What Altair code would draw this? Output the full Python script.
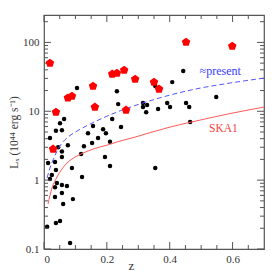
import altair as alt
import pandas as pd

# Black points (z, L_X in 1e44 erg/s)
black_z = [0.105, 0.232, 0.236, 0.217, 0.245, 0.064, 0.051, 0.038, 0.057, 0.140,
           0.156, 0.172, 0.188, 0.197, 0.019, 0.443, 0.408, 0.354, 0.315, 0.328,
           0.315, 0.325, 0.363, 0.392, 0.401, 0.452, 0.462, 0.548, 0.465, 0.210,
           0.194, 0.210, 0.354, 0.045, 0.057, 0.057, 0.013, 0.035, 0.089, 0.038,
           0.025, 0.019, 0.041, 0.057, 0.121, 0.035, 0.073, 0.057, 0.035, 0.061,
           0.092, 0.038, 0.051, 0.010, 0.083, 0.153, 0.127, 0.118, 0.076]
black_L = [21.7, 19.6, 12.7, 7.7, 5.9, 7.7, 6.7, 5.2, 5.3, 4.8,
           6.1, 4.1, 5.5, 4.8, 4.1, 38.3, 26.5, 23.2, 13.2, 12.3,
           11.5, 9.7, 10.8, 13.2, 11.5, 13.2, 11.5, 16.1, 7.0, 3.6,
           2.16, 1.60, 1.50, 3.0, 2.6, 2.16, 1.77, 1.83, 1.50, 1.40,
           1.19, 1.04, 0.91, 0.85, 1.11, 0.79, 0.82, 0.65, 0.57, 0.45,
           0.53, 0.238, 0.255, 0.21, 0.122, 3.45, 3.1, 2.4, 3.2]

# Red pentagons
red_z = [0.019, 0.038, 0.029, 0.076, 0.089, 0.156, 0.162, 0.217, 0.232, 0.255,
         0.261, 0.290, 0.350, 0.366, 0.452, 0.599]
red_L = [50, 9.7, 2.83, 15.6, 16.6, 23.2, 11.5, 34.7, 35.8, 39.6,
         10.4, 29.3, 26.5, 21.0, 101, 88]

# Sensitivity curves
present_z = [0.0096, 0.0191, 0.0287, 0.0414, 0.0573, 0.0764, 0.105, 0.140, 0.194,
             0.258, 0.315, 0.401, 0.497, 0.592, 0.70]
present_L = [1.07, 1.50, 1.96, 2.64, 3.45, 4.22, 5.16, 6.30, 8.24,
             10.8, 13.2, 17.2, 21.7, 25.7, 30.3]
ska_z = [0.0127, 0.0255, 0.0414, 0.0573, 0.0732, 0.0987, 0.124, 0.162, 0.201,
         0.242, 0.290, 0.344, 0.401, 0.497, 0.592, 0.70]
ska_L = [0.45, 0.77, 1.11, 1.45, 1.77, 2.16, 2.47, 2.88, 3.23,
         3.69, 4.22, 4.99, 5.90, 7.45, 9.26, 11.5]

# Labels
label_text = ["≈present", "SKA1"]
label_z = [0.495, 0.525]
label_L = [38.3, 5.5]
label_color = ["#3a3aff", "#ff4040"]
label_size = [12, 11.5]

# Axis ticks
x_major = [0.0, 0.2, 0.4, 0.6]
x_minor = [0.05, 0.1, 0.15, 0.25, 0.3, 0.35, 0.45, 0.5, 0.55, 0.65]
y_major = [0.1, 1, 10, 100]
y_minor = [0.2, 0.3, 0.4, 0.5, 0.6, 0.7, 0.8, 0.9, 2, 3, 4, 5, 6, 7, 8, 9,
           20, 30, 40, 50, 60, 70, 80, 90, 200]

W, H = 220, 234
FONT = "Liberation Serif"
TICK = "#555555"

xs = alt.Scale(domain=[0, 0.7], nice=False, zero=False)
ys = alt.Scale(type="log", domain=[0.1, 250], nice=False)

xaxis = alt.Axis(values=x_major, format="~g", ticks=False, domain=False, grid=False,
                 labelFont=FONT, labelFontSize=11, labelColor="#333", labelPadding=4,
                 title="z", titleFont=FONT, titleFontSize=13, titleFontWeight="normal",
                 titleColor="#333", titleX=87, titleY=20, titleBaseline="alphabetic",
                 titleAlign="center")
yaxis = alt.Axis(values=y_major, format="~g", ticks=False, domain=False, grid=False,
                 labelFont=FONT, labelFontSize=11, labelColor="#333", labelPadding=5,
                 title="Lₓ (10⁴⁴ erg s⁻¹)", titleFont=FONT, titleFontSize=11.5,
                 titleFontWeight="normal", titleColor="#333", titlePadding=3)

bdf = pd.DataFrame({"z": black_z, "L": black_L})
rdf = pd.DataFrame({"z": red_z, "L": red_L})
pdf = pd.DataFrame({"z": present_z, "L": present_L})
sdf = pd.DataFrame({"z": ska_z, "L": ska_L})
ldf = pd.DataFrame({"t": label_text, "z": label_z, "L": label_L, "c": label_color,
                    "s": label_size})

base_pts = alt.Chart(bdf).mark_circle(size=20, color="black", opacity=1).encode(
    x=alt.X("z:Q", scale=xs, axis=xaxis),
    y=alt.Y("L:Q", scale=ys, axis=yaxis),
)

pent = "M0,-1L0.951,-0.309L0.588,0.809L-0.588,0.809L-0.951,-0.309Z"
red_pts = alt.Chart(rdf).mark_point(shape=pent, size=80, filled=True, color="#ff0000",
                                    opacity=1).encode(
    x=alt.X("z:Q", scale=xs), y=alt.Y("L:Q", scale=ys))

present_line = alt.Chart(pdf).mark_line(color="#5555ff", strokeWidth=1,
                                        strokeDash=[5, 3], interpolate="monotone").encode(
    x=alt.X("z:Q", scale=xs), y=alt.Y("L:Q", scale=ys))
ska_line = alt.Chart(sdf).mark_line(color="#ff5a5a", strokeWidth=1,
                                    interpolate="monotone").encode(
    x=alt.X("z:Q", scale=xs), y=alt.Y("L:Q", scale=ys))

labels = alt.Chart(ldf).mark_text(font=FONT, align="left", baseline="middle").encode(
    x=alt.X("z:Q", scale=xs), y=alt.Y("L:Q", scale=ys),
    text="t:N", color=alt.Color("c:N", scale=None),
    size=alt.Size("s:Q", scale=None))

def xticks(vals, length):
    df = pd.DataFrame({"v": vals})
    bot = alt.Chart(df).mark_rule(color=TICK, strokeWidth=1).encode(
        x=alt.X("v:Q", scale=xs), y=alt.value(H), y2=alt.value(H - length))
    top = alt.Chart(df).mark_rule(color=TICK, strokeWidth=1).encode(
        x=alt.X("v:Q", scale=xs), y=alt.value(0), y2=alt.value(length))
    return [bot, top]

def yticks(vals, length):
    df = pd.DataFrame({"v": vals})
    left = alt.Chart(df).mark_rule(color=TICK, strokeWidth=1).encode(
        y=alt.Y("v:Q", scale=ys), x=alt.value(0), x2=alt.value(length))
    right = alt.Chart(df).mark_rule(color=TICK, strokeWidth=1).encode(
        y=alt.Y("v:Q", scale=ys), x=alt.value(W), x2=alt.value(W - length))
    return [left, right]

tick_layers = xticks(x_major, 7) + xticks(x_minor, 4) + yticks(y_major, 7) + yticks(y_minor, 4)

chart = alt.layer(
    base_pts, *tick_layers, present_line, ska_line, red_pts, labels
).properties(
    width=W, height=H,
    autosize=alt.AutoSizeParams(type="none"),
    padding={"left": 36, "top": 7, "right": 7, "bottom": 22},
).configure_view(stroke="#555555", strokeWidth=1.2)

chart.save("out.html", embed_options={"renderer": "svg", "actions": False})
